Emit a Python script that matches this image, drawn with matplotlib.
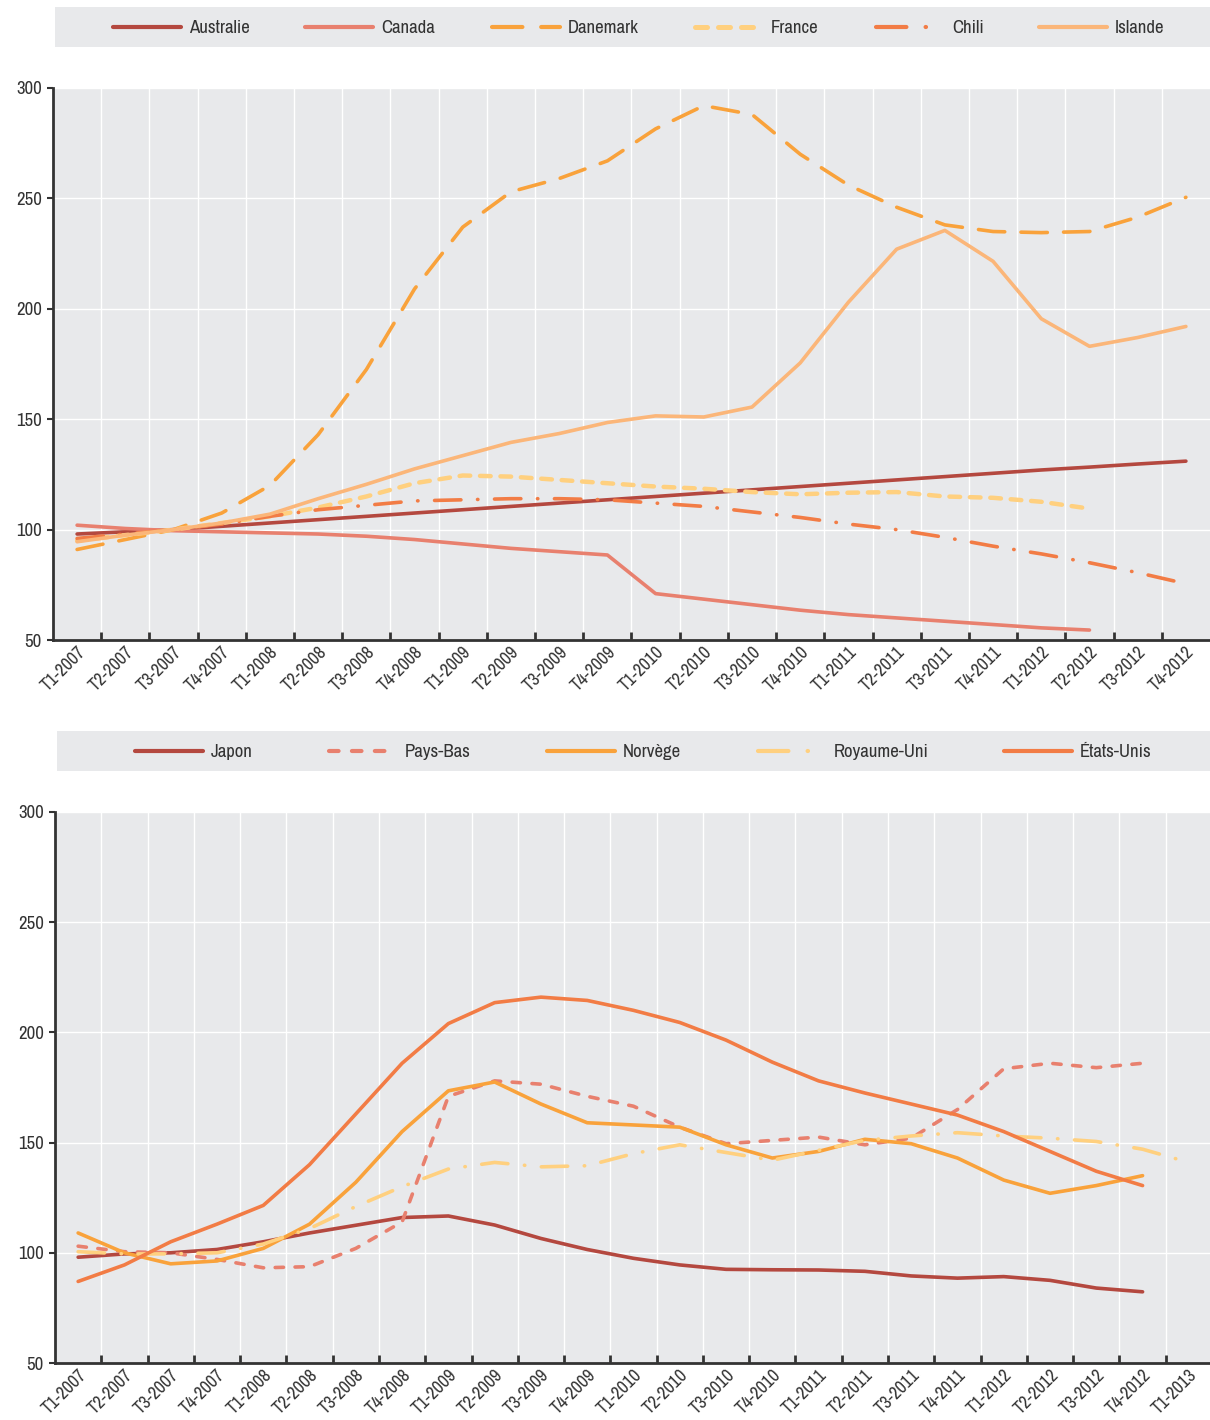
import matplotlib
matplotlib.use("Agg")
import matplotlib.pyplot as plt

plt.rcParams['font.family'] = ['Archivo Narrow', 'Roboto Condensed', 'DejaVu Sans']

# ---- données : panneau du haut ----
trim_haut = ['T1-2007', 'T2-2007', 'T3-2007', 'T4-2007',
             'T1-2008', 'T2-2008', 'T3-2008', 'T4-2008',
             'T1-2009', 'T2-2009', 'T3-2009', 'T4-2009',
             'T1-2010', 'T2-2010', 'T3-2010', 'T4-2010',
             'T1-2011', 'T2-2011', 'T3-2011', 'T4-2011',
             'T1-2012', 'T2-2012', 'T3-2012', 'T4-2012']
australie = [98, 99, 100, 101.5, 103, 104.5, 106, 107.5, 109, 110.5, 112, 113.5,
             115, 116.5, 118, 119.5, 121, 122.5, 124, 125.5, 127, 128.3, 129.7, 131]
canada = [102, 100.5, 99.5, 99, 98.5, 98, 97, 95.5, 93.5, 91.5, 90, 88.5,
          71, 68.5, 66, 63.5, 61.5, 60, 58.5, 57, 55.5, 54.5]
danemark = [91, 95.5, 100, 107.5, 120, 143, 172.5, 209, 237, 253, 259, 267,
            281.5, 292, 288, 270, 256, 246, 238, 235, 234.5, 235, 241.5, 250.5]
france = [95, 97.5, 100, 103, 106, 110, 115, 121, 124.5, 124, 122.5, 121,
          119.5, 118.5, 117, 116, 116.7, 117, 115, 114.4, 112.6, 109.5]
chili = [96, 98, 100, 102.5, 106, 109, 111, 113, 113.5, 114, 114, 113.5,
         112, 110.5, 108, 105.5, 102.5, 100, 96.5, 92.5, 89, 85, 80.5, 75.5]
islande = [94.5, 97.5, 100, 103, 107, 114, 120.5, 127.5, 133.5, 139.5, 143.5, 148.5,
           151.5, 151, 155.5, 175.5, 203, 227, 235.5, 221.5, 195.5, 183, 187, 192]

# ---- données : panneau du bas ----
trim_bas = trim_haut + ['T1-2013']
japon = [98, 99.5, 100, 101.5, 105, 109, 112.5, 116, 116.7, 112.6, 106.5, 101.5,
         97.5, 94.5, 92.5, 92.3, 92.2, 91.6, 89.5, 88.5, 89.2, 87.5, 84, 82.3]
pays_bas = [103, 100.5, 100, 97, 93.2, 93.7, 102, 114, 171, 178, 176.5, 171,
            166.5, 157, 149.5, 151, 152.5, 149, 152, 165, 183.5, 186, 184, 186]
norvege = [109, 100, 95, 96.3, 102, 113, 132, 155, 173.5, 177.5, 167.5, 159,
           158, 157, 149, 143, 146, 151.5, 149.5, 143, 133, 127, 130.5, 135]
royaume_uni = [100.5, 99.5, 99.5, 100, 104, 111, 121, 130, 138, 141, 139, 139.5,
               145, 149, 145.5, 142, 146.5, 151, 153, 154.5, 153, 152, 150.5, 147, 141]
etats_unis = [87, 94.5, 105, 113, 121.5, 140, 163, 186, 204, 213.5, 216, 214.5,
              210, 204.5, 196.5, 186.5, 178, 172.5, 167.5, 162.5, 155, 146, 137, 130.5]

BG = '#E8E9EB'
C_AUS = '#B4483F'
C_CAN = '#E8806E'
C_DAN = '#F9A23B'
C_FRA = '#FFD07F'
C_CHI = '#F27C45'
C_ISL = '#FBB679'

LW = 2.6
DASH_DAN = (0, (7.3, 4.5))
DASH_FRA = (0, (2.4, 2.2))
DASH_CHI = (0, (7.3, 4.6, 0.1, 4.6))
DASH_PB = (0, (2.3, 3.2))
DASH_UK = (0, (7.3, 4.6, 0.1, 4.6))

# nom, valeurs, couleur, style, epaisseur
haut = [('Australie', australie, C_AUS, '-', LW),
        ('Canada', canada, C_CAN, '-', LW),
        ('Danemark', danemark, C_DAN, DASH_DAN, LW),
        ('France', france, C_FRA, DASH_FRA, 3.2),
        ('Chili', chili, C_CHI, DASH_CHI, LW),
        ('Islande', islande, C_ISL, '-', LW)]
bas = [('Japon', japon, C_AUS, '-', LW),
       ('Pays-Bas', pays_bas, C_CAN, DASH_PB, LW),
       ('Norvège', norvege, C_DAN, '-', LW),
       ('Royaume-Uni', royaume_uni, C_FRA, DASH_UK, LW),
       ('États-Unis', etats_unis, C_CHI, '-', LW)]

W, H = 1210, 1420
FS = 13.5
TXT = '#333333'
fig = plt.figure(figsize=(W / 100, H / 100), dpi=100)


def px(x0, y0, x1, y1):
    # rectangle en pixels (origine en haut a gauche) -> coordonnees figure
    return [x0 / W, 1 - y1 / H, (x1 - x0) / W, (y1 - y0) / H]


def panneau(rect, series, labels, n_bound):
    ax = fig.add_axes(rect)
    ax.set_facecolor(BG)
    n = len(labels)
    for name, vals, col, ls, lw in series:
        ax.plot(range(len(vals)), vals, color=col, lw=lw, ls=ls,
                solid_capstyle='round', dash_capstyle='round', zorder=3)
    ax.set_xlim(-0.5, n - 0.5)
    ax.set_ylim(50, 300)
    ax.set_yticks([50, 100, 150, 200, 250, 300])
    ax.set_xticks(range(n))
    ax.set_xticklabels(labels, rotation=45, ha='right', rotation_mode='anchor')
    ax.set_xticks([k + 0.5 for k in range(n_bound)], minor=True)
    ax.tick_params(axis='x', which='major', length=0, pad=3, labelsize=13, colors=TXT)
    ax.tick_params(axis='x', which='minor', direction='in', length=6, width=2, color='#333333')
    ax.tick_params(axis='y', length=4, width=1.5, color='#333333', labelsize=FS,
                   labelcolor=TXT, pad=4)
    ax.grid(True, axis='x', which='minor', color='white', lw=1)
    ax.grid(True, axis='y', which='major', color='white', lw=1)
    ax.grid(False, axis='x', which='major')
    ax.set_axisbelow(True)
    for s in ['top', 'right']:
        ax.spines[s].set_visible(False)
    for s in ['left', 'bottom']:
        ax.spines[s].set_color('#333333')
        ax.spines[s].set_linewidth(2)
    return ax


def legende(rect, series, xs):
    lg = fig.add_axes(rect)
    lg.set_facecolor(BG)
    lg.set_xlim(rect[0] * W, (rect[0] + rect[2]) * W)
    lg.set_ylim(0, 1)
    for (name, vals, col, ls, lw), x in zip(series, xs):
        lg.plot([x, x + 68], [0.5, 0.5], color=col, lw=lw + 0.4, ls=ls,
                solid_capstyle='round', dash_capstyle='round')
        lg.text(x + 76, 0.47, name, va='center', ha='left', fontsize=FS, color=TXT)
    lg.set_xticks([])
    lg.set_yticks([])
    for s in lg.spines.values():
        s.set_visible(False)


panneau(px(53, 88, 1210, 640), haut, trim_haut, 23)
panneau(px(55, 812, 1212, 1363), bas, trim_bas, 24)
legende(px(55, 7, 1210, 47), haut, [113, 305, 492, 695, 876, 1039])
legende(px(57, 731, 1210, 771), bas, [135, 329, 547, 758, 1004])

fig.savefig('out.png', dpi=100)
